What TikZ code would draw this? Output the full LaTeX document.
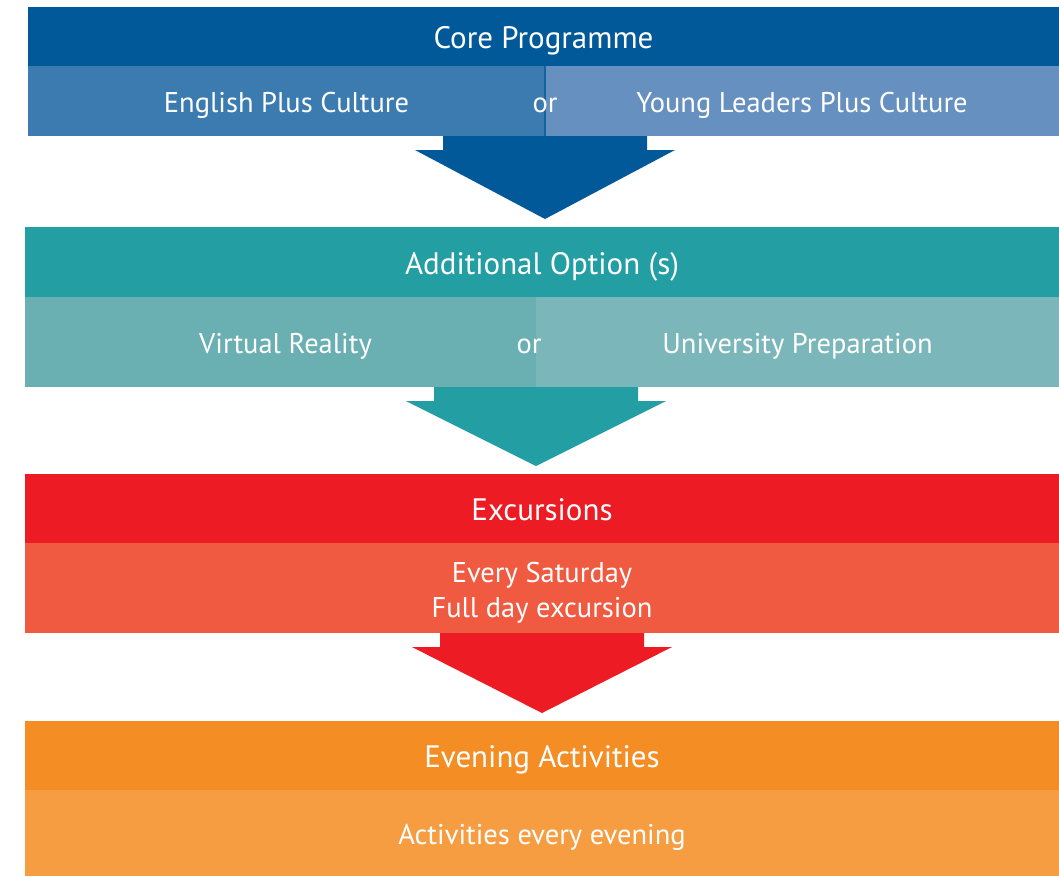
\documentclass[tikz,border=0pt]{standalone}
\usepackage{fontspec}
\setmainfont{PT Sans}
\usetikzlibrary{positioning,calc}

\definecolor{coreblue}{RGB}{2,89,154}
\definecolor{engblue}{RGB}{60,123,176}
\definecolor{youngblue}{RGB}{101,144,191}
\definecolor{addteal}{RGB}{35,158,162}
\definecolor{vrteal}{RGB}{106,175,178}
\definecolor{uniteal}{RGB}{123,183,186}
\definecolor{excred}{RGB}{237,28,36}
\definecolor{satred}{RGB}{240,90,64}
\definecolor{eveorange}{RGB}{244,141,35}
\definecolor{actorange}{RGB}{246,157,66}

\tikzset{
  box/.style={rectangle,inner sep=0pt,outer sep=0pt,anchor=north west,
    text=white,align=center},
  oneline/.style={text height=30pt,text depth=7pt},
  headbox/.style={box,minimum height=#1,text height=32.7pt,text depth=8pt,
    font=\fontsize{31}{37}\selectfont},
  optbox/.style={box,minimum height=#1,font=\fontsize{28.5}{35}\selectfont},
  orword/.style={box,oneline,anchor=center,font=\fontsize{28.5}{35}\selectfont}
}

% block arrow from the bottom of one block to the top of the next
\newcommand{\flowarrow}[3]{%
  \fill[#1] let \p1=(#2), \p2=(#3.north) in
    (\x1-102pt,\y1) -- (\x1-102pt,\y1-14pt) -- (\x1-130pt,\y1-14pt)
    -- (\x1,\y2+8pt) -- (\x1+130pt,\y1-14pt) -- (\x1+102pt,\y1-14pt)
    -- (\x1+102pt,\y1) -- cycle;}

\begin{document}
\begin{tikzpicture}[x=1pt,y=-1pt]
  \useasboundingbox (0,0) rectangle (1059,876);

  % Core programme
  \node[headbox=59pt,minimum width=1031pt,fill=coreblue] (core) at (28,7) {Core Programme};
  \node[optbox=70pt,oneline,minimum width=517pt,fill=engblue] (eng) at (core.south west) {English Plus Culture};
  \node[optbox=70pt,oneline,minimum width=514pt,fill=youngblue] (young) at (eng.north east) {Young Leaders Plus Culture};
  \draw[coreblue!70!engblue,line width=1.5pt] (eng.north east) -- (eng.south east);
  \node[orword] (or1) at (eng.east) {or};

  % Additional options
  \node[headbox=70pt,minimum width=1034pt,fill=addteal] (add) at (25,227) {Additional Option (s)};
  \node[optbox=90pt,oneline,minimum width=511pt,fill=vrteal] (vr) at (add.south west) {\hspace*{10pt}Virtual Reality};
  \node[optbox=90pt,oneline,minimum width=523pt,fill=uniteal] (uni) at (vr.north east) {University Preparation};
  \node[orword] (or2) at ($(vr.east)+(-7,0)$) {or};

  % Excursions
  \node[headbox=69pt,minimum width=1034pt,fill=excred] (exc) at (25,474) {Excursions};
  \node[optbox=90pt,minimum width=1034pt,fill=satred] (sat) at (exc.south west) {\rule{0pt}{1.02em}Every Saturday\\Full day excursion};

  % Evening activities
  \node[headbox=69pt,minimum width=1034pt,fill=eveorange] (eve) at (25,721) {Evening Activities};
  \node[optbox=86pt,oneline,minimum width=1034pt,fill=actorange] (act) at (eve.south west) {Activities every evening};

  % Arrows
  \flowarrow{coreblue}{eng.south east}{add}
  \flowarrow{addteal}{vr.south east}{exc}
  \flowarrow{excred}{sat.south}{eve}
\end{tikzpicture}
\end{document}
